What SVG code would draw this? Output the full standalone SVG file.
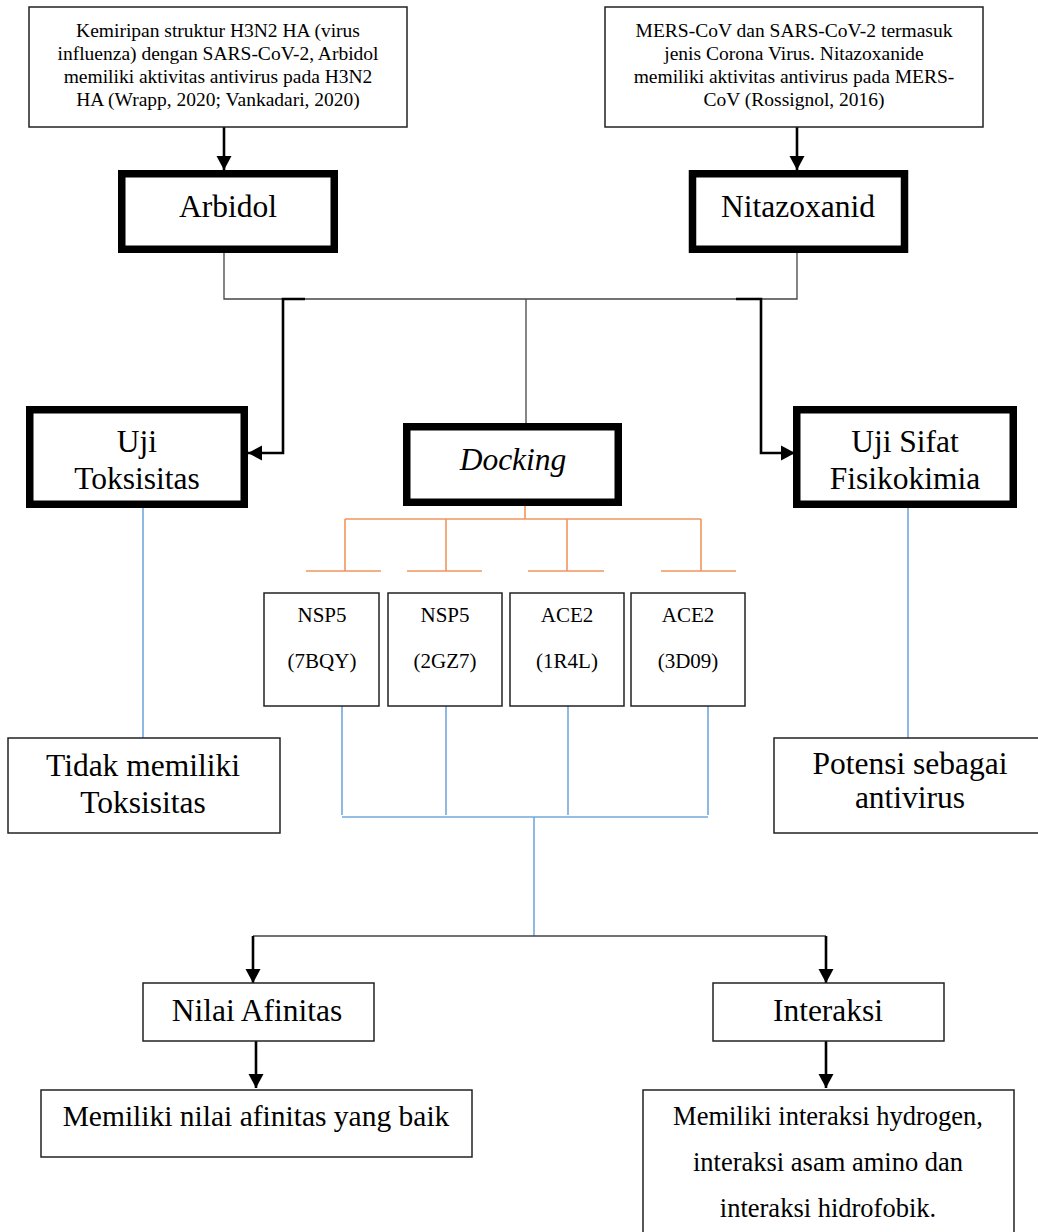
<svg xmlns="http://www.w3.org/2000/svg" width="1038" height="1232" viewBox="0 0 1038 1232">
<style>
text{font-family:"Liberation Serif","Times New Roman",serif;fill:#000;text-anchor:middle}
.s{font-size:19.5px}
.m{font-size:21px}
.l{font-size:31.5px}
.thin{fill:#fff;stroke:#222;stroke-width:1.5}
.thick{fill:#fff;stroke:#000;stroke-width:7.5}
.c{fill:none;stroke:#444;stroke-width:1.3}
.a{fill:none;stroke:#000;stroke-width:2.6}
.o{fill:none;stroke:#F0965C;stroke-width:1.6}
.b{fill:none;stroke:#74A9DC;stroke-width:1.6}
</style>
<defs>
<marker id="ar" markerUnits="userSpaceOnUse" markerWidth="14" markerHeight="16" refX="14" refY="8" orient="auto">
<path d="M0,0.5 L14,8 L0,15.5 z" fill="#000"/>
</marker>
</defs>
<rect width="1038" height="1232" fill="#fff"/>
<g id="connectors">
<path class="a" d="M224,127 V170" marker-end="url(#ar)"/>
<path class="a" d="M797,127 V170" marker-end="url(#ar)"/>
<path class="c" d="M224,253 V299 H797 V253"/>
<path class="c" d="M526,299 V423"/>
<path class="a" d="M305,299 H283 V453 H248" marker-end="url(#ar)"/>
<path class="a" d="M736,299 H761 V453 H795" marker-end="url(#ar)"/>
<path class="o" d="M525,506 V519 M345,519 H701 M345,519 V571 M446,519 V571 M567,519 V571 M701,519 V571 M306,571 H381 M407,571 H482 M528,571 H604 M661,571 H736"/>
<path class="b" d="M143,508 V738 M908,508 V738"/>
<path class="b" d="M342,706 V815 M446,706 V815 M568,706 V815 M708,706 V815 M342,817 H708 M534,817 V936"/>
<path class="c" d="M253,936 H826"/>
<path class="a" d="M253,936 V983" marker-end="url(#ar)"/>
<path class="a" d="M826,936 V983" marker-end="url(#ar)"/>
<path class="a" d="M256,1041 V1088" marker-end="url(#ar)"/>
<path class="a" d="M826,1041 V1088" marker-end="url(#ar)"/>
</g>
<g id="n-top-left">
<rect class="thin" x="29" y="7" width="378" height="120"/>
<text class="s" x="218" y="37">Kemiripan struktur H3N2 HA (virus</text>
<text class="s" x="218" y="60">influenza) dengan SARS-CoV-2, Arbidol</text>
<text class="s" x="218" y="83">memiliki aktivitas antivirus pada H3N2</text>
<text class="s" x="218" y="106">HA (Wrapp, 2020; Vankadari, 2020)</text>
</g>
<g id="n-top-right">
<rect class="thin" x="605" y="7" width="378" height="120"/>
<text class="s" x="794" y="37">MERS-CoV dan SARS-CoV-2 termasuk</text>
<text class="s" x="794" y="60">jenis Corona Virus. Nitazoxanide</text>
<text class="s" x="794" y="83">memiliki aktivitas antivirus pada MERS-</text>
<text class="s" x="794" y="106">CoV (Rossignol, 2016)</text>
</g>
<g id="n-arbidol">
<rect class="thick" x="121.75" y="173.75" width="212.5" height="75.5"/>
<text class="l" x="228" y="217">Arbidol</text>
</g>
<g id="n-nitazoxanid">
<rect class="thick" x="692.5" y="173.75" width="212" height="75.5"/>
<text class="l" x="798" y="217">Nitazoxanid</text>
</g>
<g id="n-uji-toksisitas">
<rect class="thick" x="29.75" y="409.75" width="214.5" height="94.5"/>
<text class="l" x="137" y="452">Uji</text>
<text class="l" x="137" y="489">Toksisitas</text>
</g>
<g id="n-docking">
<rect class="thick" x="406.75" y="426.75" width="211.5" height="75.5"/>
<text class="l" x="513" y="470" font-style="italic">Docking</text>
</g>
<g id="n-uji-sifat">
<rect class="thick" x="796.75" y="409.75" width="216.5" height="94.5"/>
<text class="l" x="905" y="452">Uji Sifat</text>
<text class="l" x="905" y="489">Fisikokimia</text>
</g>
<g id="n-nsp5-7bqy">
<rect class="thin" x="264" y="593" width="115" height="113"/>
<text class="m" x="322" y="622">NSP5</text>
<text class="m" x="322" y="668">(7BQY)</text>
</g>
<g id="n-nsp5-2gz7">
<rect class="thin" x="388" y="593" width="114" height="113"/>
<text class="m" x="445" y="622">NSP5</text>
<text class="m" x="445" y="668">(2GZ7)</text>
</g>
<g id="n-ace2-1r4l">
<rect class="thin" x="510" y="593" width="114" height="113"/>
<text class="m" x="567" y="622">ACE2</text>
<text class="m" x="567" y="668">(1R4L)</text>
</g>
<g id="n-ace2-3d09">
<rect class="thin" x="631" y="593" width="114" height="113"/>
<text class="m" x="688" y="622">ACE2</text>
<text class="m" x="688" y="668">(3D09)</text>
</g>
<g id="n-tidak">
<rect class="thin" x="8" y="738" width="272" height="95"/>
<text class="l" x="143" y="776">Tidak memiliki</text>
<text class="l" x="143" y="813">Toksisitas</text>
</g>
<g id="n-potensi">
<rect class="thin" x="774" y="738" width="270" height="95"/>
<text class="l" x="910" y="774">Potensi sebagai</text>
<text class="l" x="910" y="808">antivirus</text>
</g>
<g id="n-nilai-afinitas">
<rect class="thin" x="143" y="983" width="231" height="58"/>
<text class="l" x="257" y="1021">Nilai Afinitas</text>
</g>
<g id="n-interaksi">
<rect class="thin" x="713" y="983" width="231" height="58"/>
<text class="l" x="828" y="1021">Interaksi</text>
</g>
<g id="n-afinitas-baik">
<rect class="thin" x="41" y="1090" width="431" height="67"/>
<text class="l" x="256" y="1126" style="font-size:29.5px">Memiliki nilai afinitas yang baik</text>
</g>
<g id="n-interaksi-hasil">
<rect class="thin" x="643" y="1090" width="371" height="160"/>
<text x="828" y="1125" style="font-size:26.5px">Memiliki interaksi hydrogen,</text>
<text x="828" y="1171" style="font-size:26.5px">interaksi asam amino dan</text>
<text x="828" y="1217" style="font-size:26.5px">interaksi hidrofobik.</text>
</g>
</svg>
